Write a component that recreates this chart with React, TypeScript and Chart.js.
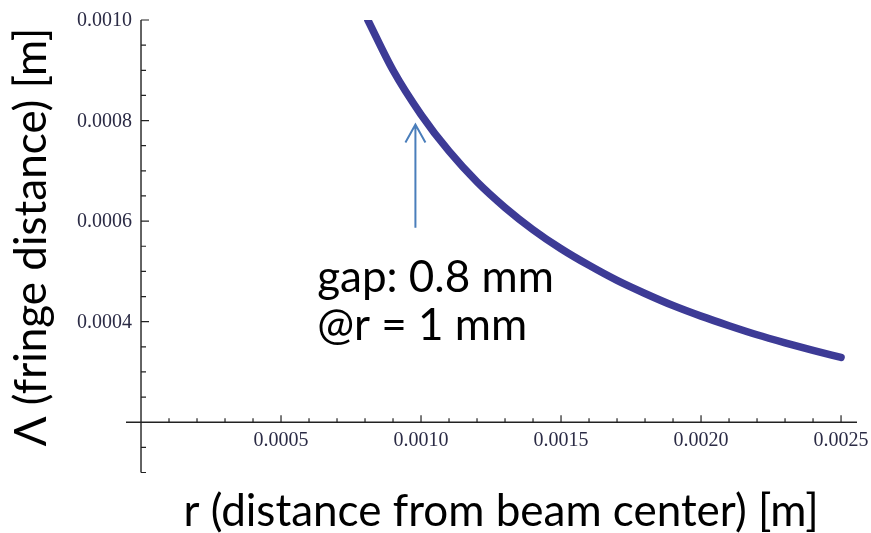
import React, { useEffect, useRef } from "react";
import { Chart, registerables } from "chart.js";

Chart.register(...registerables);

// ---- data ----
const R_VALUES = [
  0.00081, 0.0009, 0.001, 0.0011, 0.0012, 0.0013, 0.0014, 0.0015, 0.0016,
  0.0017, 0.0018, 0.0019, 0.002, 0.0021, 0.0022, 0.0023, 0.0024, 0.0025,
];
const LAMBDA_VALUES = [
  0.001, 0.0009, 0.000812, 0.000739, 0.000678, 0.000627, 0.000583, 0.000545,
  0.000512, 0.000482, 0.000456, 0.000432, 0.000411, 0.000392, 0.000374,
  0.000358, 0.000343, 0.000329,
];

const X_TICKS = [0.0005, 0.001, 0.0015, 0.002, 0.0025];
const X_TICK_LABELS = ["0.0005", "0.0010", "0.0015", "0.0020", "0.0025"];
const Y_TICKS = [0.0004, 0.0006, 0.0008, 0.001];
const Y_TICK_LABELS = ["0.0004", "0.0006", "0.0008", "0.0010"];
const X_MINOR_STEP = 0.0001;
const X_MINOR_COUNT = 25;
const Y_MINOR_STEP = 0.00005;
const Y_MINOR_FROM = 2;
const Y_MINOR_TO = 20;

const X_MIN = -0.0000536;
const X_MAX = 0.002557;
const Y_MIN = 0.0001;
const Y_MAX = 0.001;
const X_AXIS_AT = 0.0002; // y value where horizontal axis crosses
const Y_AXIS_AT = 0; // x value where vertical axis crosses

const X_TITLE = "r (distance from beam center) [m]";
const Y_TITLE = "Λ (fringe distance) [m]";
const NOTE_LINES = ["gap: 0.8 mm", "@r = 1 mm"];
const NOTE_POS = { r: 0.000629, lambda: 0.000459 };
const ARROW_R = 0.00098;
const ARROW_FROM = 0.000587;
const ARROW_TO = 0.000792;

const CURVE_COLOR = "#3d3b96";
const ARROW_COLOR = "#4a7ebb";
const AXIS_COLOR = "#222222";
const TICK_TEXT_COLOR = "#2b2b45";

const axesPlugin = {
  id: "mathAxes",
  beforeDatasetsDraw(chart: any) {
    const { ctx, chartArea } = chart;
    const xs = chart.scales.x;
    const ys = chart.scales.y;
    const x0 = xs.getPixelForValue(Y_AXIS_AT);
    const y0 = ys.getPixelForValue(X_AXIS_AT);
    ctx.save();
    ctx.strokeStyle = AXIS_COLOR;
    ctx.lineWidth = 1.4;
    ctx.beginPath();
    ctx.moveTo(chartArea.left, y0);
    ctx.lineTo(chartArea.right, y0);
    ctx.moveTo(x0, chartArea.top);
    ctx.lineTo(x0, chartArea.bottom);
    ctx.stroke();

    ctx.lineWidth = 1.2;
    ctx.beginPath();
    for (let i = 1; i <= X_MINOR_COUNT; i++) {
      const v = i * X_MINOR_STEP;
      const px = xs.getPixelForValue(v);
      const len = i % 5 === 0 ? 7 : 4;
      ctx.moveTo(px, y0);
      ctx.lineTo(px, y0 - len);
    }
    for (let i = Y_MINOR_FROM; i <= Y_MINOR_TO; i++) {
      const v = i * Y_MINOR_STEP;
      if (Math.abs(v - X_AXIS_AT) < 1e-9) continue;
      const py = ys.getPixelForValue(v);
      const len = i % 4 === 0 ? 8 : 5;
      ctx.moveTo(x0, py);
      ctx.lineTo(x0 + len, py);
    }
    ctx.stroke();

    ctx.fillStyle = TICK_TEXT_COLOR;
    ctx.font = '20px "Liberation Serif", "DejaVu Serif", serif';
    ctx.textAlign = "center";
    ctx.textBaseline = "top";
    X_TICKS.forEach((v, i) => {
      ctx.fillText(X_TICK_LABELS[i], xs.getPixelForValue(v), y0 + 9);
    });
    ctx.textAlign = "right";
    ctx.textBaseline = "middle";
    Y_TICKS.forEach((v, i) => {
      ctx.fillText(Y_TICK_LABELS[i], x0 - 9, ys.getPixelForValue(v) + 1);
    });
    ctx.restore();
  },
  afterDraw(chart: any) {
    const { ctx } = chart;
    const xs = chart.scales.x;
    const ys = chart.scales.y;
    ctx.save();
    // arrow
    const ax = xs.getPixelForValue(ARROW_R);
    const ay1 = ys.getPixelForValue(ARROW_FROM);
    const ay2 = ys.getPixelForValue(ARROW_TO);
    ctx.strokeStyle = ARROW_COLOR;
    ctx.lineWidth = 2;
    ctx.beginPath();
    ctx.moveTo(ax, ay1);
    ctx.lineTo(ax, ay2);
    ctx.moveTo(ax - 10, ay2 + 18);
    ctx.lineTo(ax, ay2);
    ctx.lineTo(ax + 10, ay2 + 18);
    ctx.stroke();

    // note text
    ctx.fillStyle = "#000";
    ctx.font = '44px Lato, "Open Sans", sans-serif';
    ctx.textAlign = "left";
    ctx.textBaseline = "alphabetic";
    const nx = xs.getPixelForValue(NOTE_POS.r);
    const ny = ys.getPixelForValue(NOTE_POS.lambda);
    ctx.fillText(NOTE_LINES[0], nx, ny);
    ctx.fillText(NOTE_LINES[1], nx, ny + 48);

    // axis titles
    ctx.font = '44px Lato, "Open Sans", sans-serif';
    ctx.textAlign = "center";
    ctx.fillText(X_TITLE, 501, 526);
    ctx.translate(46, 237);
    ctx.rotate(-Math.PI / 2);
    ctx.fillText(Y_TITLE, 0, 0);
    ctx.restore();
  },
};

export default function App() {
  const ref = useRef<HTMLCanvasElement | null>(null);
  useEffect(() => {
    if (!ref.current) return;
    const chart = new Chart(ref.current, {
      type: "line",
      data: {
        datasets: [
          {
            data: R_VALUES.map((r, i) => ({ x: r, y: LAMBDA_VALUES[i] })),
            borderColor: CURVE_COLOR,
            borderWidth: 7.5,
            pointRadius: 0,
            cubicInterpolationMode: "monotone",
            borderCapStyle: "round",
            borderJoinStyle: "round",
            clip: { left: 10, right: 10, top: 0, bottom: 10 } as any,
            fill: false,
          },
        ],
      },
      options: {
        responsive: false,
        animation: false,
        devicePixelRatio: 1,
        layout: { padding: { left: 126, right: 14, top: 20, bottom: 60.5 } },
        plugins: {
          legend: { display: false },
          tooltip: { enabled: false },
          title: { display: false },
        },
        scales: {
          x: { type: "linear", min: X_MIN, max: X_MAX, display: false },
          y: { type: "linear", min: Y_MIN, max: Y_MAX, display: false },
        },
      },
      plugins: [axesPlugin],
    });
    return () => chart.destroy();
  }, []);
  return (
    <div
      style={{
        position: "absolute",
        left: 0,
        top: 0,
        width: 871,
        height: 533,
        background: "#fff",
      }}
    >
      <canvas ref={ref} width={871} height={533} style={{ display: "block" }} />
    </div>
  );
}
